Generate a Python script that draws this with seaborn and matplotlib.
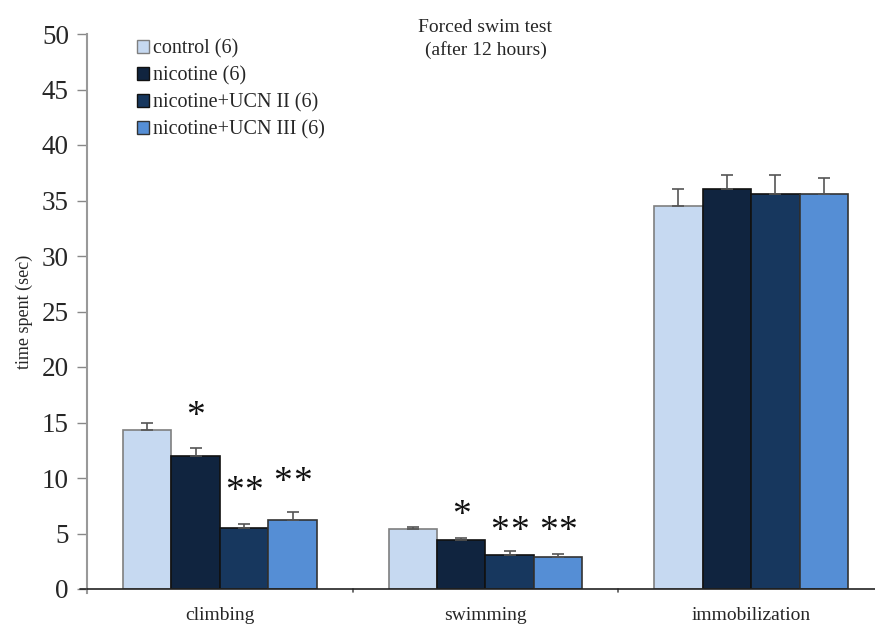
import numpy as np
import pandas as pd
import matplotlib
matplotlib.use("Agg")
import matplotlib.pyplot as plt
import seaborn as sns
from matplotlib.patches import Patch

categories = ["climbing", "swimming", "immobilization"]
groups = ["control (6)", "nicotine (6)", "nicotine+UCN II (6)", "nicotine+UCN III (6)"]
means = {
    "control (6)":          [14.3, 5.4, 34.5],
    "nicotine (6)":         [12.0, 4.4, 36.0],
    "nicotine+UCN II (6)":  [5.5, 3.1, 35.6],
    "nicotine+UCN III (6)": [6.2, 2.9, 35.6],
}
sems = {
    "control (6)":          [0.7, 0.2, 1.5],
    "nicotine (6)":         [0.7, 0.2, 1.3],
    "nicotine+UCN II (6)":  [0.4, 0.3, 1.7],
    "nicotine+UCN III (6)": [0.7, 0.25, 1.4],
}
# number of significance asterisks above each bar
stars = {
    "nicotine (6)":         [1, 1, 0],
    "nicotine+UCN II (6)":  [2, 2, 0],
    "nicotine+UCN III (6)": [2, 2, 0],
}
star_heights = {
    "nicotine (6)":         [15.5, 6.6, None],
    "nicotine+UCN II (6)":  [8.8, 5.2, None],
    "nicotine+UCN III (6)": [9.6, 5.2, None],
}
colors = ["#C6D9F1", "#10243F", "#17375E", "#558ED5"]
edges = ["#7f7f7f", "#111111", "#111111", "#333333"]

rows = []
for g in groups:
    for c, m, s in zip(categories, means[g], sems[g]):
        rows.append({"behaviour": c, "group": g, "time": m, "sem": s})
df = pd.DataFrame(rows)

serif = ["Liberation Serif", "DejaVu Serif"]
sns.set_theme(style="white")
plt.rcParams["font.family"] = serif

fig = plt.figure(figsize=(8.75, 6.27), dpi=100)
ax = fig.add_axes([87 / 875, 38 / 627, 797 / 875, 555 / 627])

sns.barplot(data=df, x="behaviour", y="time", hue="group", order=categories,
            hue_order=groups, palette=colors, errorbar=None, width=0.73,
            saturation=1, ax=ax, legend=False, edgecolor="#111111", linewidth=1.2)

# error bars (upper only) and significance marks, one container per group
for gi, (g, cont) in enumerate(zip(groups, ax.containers)):
    for ci, bar in enumerate(cont):
        bar.set_edgecolor(edges[gi])
        x = bar.get_x() + bar.get_width() / 2
        h = bar.get_height()
        ax.errorbar(x, h, yerr=[[0], [sems[g][ci]]], fmt="none",
                    ecolor="#555555", elinewidth=1.2, capsize=4, capthick=1.2,
                    zorder=3)
        n = stars.get(g, [0, 0, 0])[ci]
        if n:
            offsets = [0] if n == 1 else [-7, 7]
            for dx in offsets:
                ax.annotate("*", (x, star_heights[g][ci]), xytext=(dx, 0),
                            textcoords="offset points", ha="center", va="center",
                            fontsize=27, family=serif, color="#111111")

ax.set_xlim(-0.5, 2.5)
ax.set_ylim(0, 50)
ax.set_yticks(np.arange(0, 51, 5))
ax.tick_params(axis="y", labelsize=19.5, length=7, width=1, color="#888888",
               left=True, direction="out", pad=6)
ax.set_xticks([0, 1, 2])
ax.set_xticklabels(categories, fontsize=14)
ax.tick_params(axis="x", length=0, pad=13)
for xb in [0.5, 1.5]:
    ax.plot([xb, xb], [0, -0.006], transform=ax.get_xaxis_transform(),
            color="#555555", lw=1.2, clip_on=False)

for side in ["top", "right"]:
    ax.spines[side].set_visible(False)
ax.spines["left"].set_color("#999999")
ax.spines["left"].set_linewidth(1.5)
ax.spines["left"].set_bounds(-0.4, 50)
ax.spines["bottom"].set_color("#222222")
ax.spines["bottom"].set_linewidth(1.2)
ax.plot([-0.009, 0], [0, 0], transform=ax.get_yaxis_transform(),
        color="#222222", lw=1.2, clip_on=False)

ax.set_xlabel("")
ax.set_ylabel("time spent (sec)", fontsize=13, labelpad=6)
ax.set_title("Forced swim test\n(after 12 hours)", fontsize=14, y=0.948,
             linespacing=1.3)

handles = [Patch(facecolor=c, edgecolor=e, linewidth=1) for c, e in zip(colors, edges)]
ax.legend(handles, groups, loc="upper left", bbox_to_anchor=(0.053, 1.005),
          frameon=False, fontsize=14.5, handlelength=0.6, handleheight=0.6,
          handletextpad=0.2, labelspacing=0.38, borderaxespad=0)

fig.savefig("out.png", dpi=100)
